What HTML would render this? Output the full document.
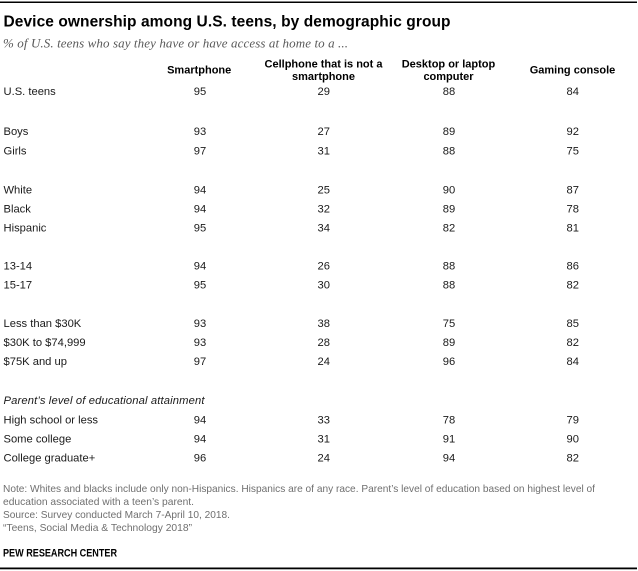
<!DOCTYPE html>
<html>
<head>
<meta charset="utf-8">
<style>
  html, body { margin:0; padding:0; background:#fff; }
  svg { display:block; }
  .t { font-family:"Liberation Sans", Arial, sans-serif; }
  .lab { font-family:"Liberation Sans", Arial, sans-serif; font-size:11.2px; fill:#1a1a1a; }
  .val { font-family:"Liberation Sans", Arial, sans-serif; font-size:11.2px; fill:#1a1a1a; text-anchor:middle; }
  .hd { font-family:"Liberation Sans", Arial, sans-serif; font-size:11px; font-weight:bold; fill:#000; text-anchor:middle; }
  .ft { font-family:"Liberation Sans", Arial, sans-serif; font-size:10.3px; fill:#6f6f6f; }
</style>
</head>
<body>
<svg width="638" height="571" viewBox="0 0 638 571" xmlns="http://www.w3.org/2000/svg">
  <rect x="0" y="0" width="638" height="571" fill="#fff"/>
  <rect x="0" y="1.5" width="637" height="1.5" fill="#000"/>

  <text class="t" x="3.5" y="26.7" font-size="15.5" font-weight="bold" fill="#000" textLength="447" lengthAdjust="spacing">Device ownership among U.S. teens, by demographic group</text>
  <text x="3" y="47.5" font-family="'Liberation Serif', 'Times New Roman', serif" font-style="italic" font-size="13" fill="#595959" textLength="345" lengthAdjust="spacing">% of U.S. teens who say they have or have access at home to a ...</text>

  <!-- headers -->
  <text class="hd" x="199.2" y="73.7">Smartphone</text>
  <text class="hd" x="323.5" y="67.5">Cellphone that is not a</text>
  <text class="hd" x="323.5" y="80">smartphone</text>
  <text class="hd" x="448.5" y="67.5">Desktop or laptop</text>
  <text class="hd" x="448.5" y="80">computer</text>
  <text class="hd" x="572.5" y="73.7">Gaming console</text>

  <!-- rows -->
  <g>
    <text class="lab" x="3.5" y="95">U.S. teens</text>
    <text class="val" x="200" y="95">95</text><text class="val" x="323.7" y="95">29</text><text class="val" x="449" y="95">88</text><text class="val" x="572.7" y="95">84</text>

    <text class="lab" x="3.5" y="135">Boys</text>
    <text class="val" x="200" y="135">93</text><text class="val" x="323.7" y="135">27</text><text class="val" x="449" y="135">89</text><text class="val" x="572.7" y="135">92</text>

    <text class="lab" x="3.5" y="154.3">Girls</text>
    <text class="val" x="200" y="154.3">97</text><text class="val" x="323.7" y="154.3">31</text><text class="val" x="449" y="154.3">88</text><text class="val" x="572.7" y="154.3">75</text>

    <text class="lab" x="3.5" y="193.3">White</text>
    <text class="val" x="200" y="193.3">94</text><text class="val" x="323.7" y="193.3">25</text><text class="val" x="449" y="193.3">90</text><text class="val" x="572.7" y="193.3">87</text>

    <text class="lab" x="3.5" y="212.3">Black</text>
    <text class="val" x="200" y="212.3">94</text><text class="val" x="323.7" y="212.3">32</text><text class="val" x="449" y="212.3">89</text><text class="val" x="572.7" y="212.3">78</text>

    <text class="lab" x="3.5" y="231.3">Hispanic</text>
    <text class="val" x="200" y="231.3">95</text><text class="val" x="323.7" y="231.3">34</text><text class="val" x="449" y="231.3">82</text><text class="val" x="572.7" y="231.3">81</text>

    <text class="lab" x="3.5" y="269.5">13-14</text>
    <text class="val" x="200" y="269.5">94</text><text class="val" x="323.7" y="269.5">26</text><text class="val" x="449" y="269.5">88</text><text class="val" x="572.7" y="269.5">86</text>

    <text class="lab" x="3.5" y="288.7">15-17</text>
    <text class="val" x="200" y="288.7">95</text><text class="val" x="323.7" y="288.7">30</text><text class="val" x="449" y="288.7">88</text><text class="val" x="572.7" y="288.7">82</text>

    <text class="lab" x="3.5" y="326.8">Less than $30K</text>
    <text class="val" x="200" y="326.8">93</text><text class="val" x="323.7" y="326.8">38</text><text class="val" x="449" y="326.8">75</text><text class="val" x="572.7" y="326.8">85</text>

    <text class="lab" x="3.5" y="345.8">$30K to $74,999</text>
    <text class="val" x="200" y="345.8">93</text><text class="val" x="323.7" y="345.8">28</text><text class="val" x="449" y="345.8">89</text><text class="val" x="572.7" y="345.8">82</text>

    <text class="lab" x="3.5" y="364.8">$75K and up</text>
    <text class="val" x="200" y="364.8">97</text><text class="val" x="323.7" y="364.8">24</text><text class="val" x="449" y="364.8">96</text><text class="val" x="572.7" y="364.8">84</text>

    <text class="lab" x="3.5" y="404" font-style="italic" textLength="201" lengthAdjust="spacing">Parent’s level of educational attainment</text>

    <text class="lab" x="3.5" y="423.3">High school or less</text>
    <text class="val" x="200" y="423.3">94</text><text class="val" x="323.7" y="423.3">33</text><text class="val" x="449" y="423.3">78</text><text class="val" x="572.7" y="423.3">79</text>

    <text class="lab" x="3.5" y="442.3">Some college</text>
    <text class="val" x="200" y="442.3">94</text><text class="val" x="323.7" y="442.3">31</text><text class="val" x="449" y="442.3">91</text><text class="val" x="572.7" y="442.3">90</text>

    <text class="lab" x="3.5" y="461.3">College graduate+</text>
    <text class="val" x="200" y="461.3">96</text><text class="val" x="323.7" y="461.3">24</text><text class="val" x="449" y="461.3">94</text><text class="val" x="572.7" y="461.3">82</text>
  </g>

  <!-- footer -->
  <text class="ft" x="3" y="492" textLength="592" lengthAdjust="spacingAndGlyphs">Note: Whites and blacks include only non-Hispanics. Hispanics are of any race. Parent’s level of education based on highest level of</text>
  <text class="ft" x="3" y="505" textLength="191" lengthAdjust="spacingAndGlyphs">education associated with a teen’s parent.</text>
  <text class="ft" x="3" y="518" textLength="227" lengthAdjust="spacingAndGlyphs">Source: Survey conducted March 7-April 10, 2018.</text>
  <text class="ft" x="3" y="531" textLength="189" lengthAdjust="spacingAndGlyphs">“Teens, Social Media &amp; Technology 2018”</text>

  <text class="t" x="3" y="556.5" font-size="10.7" font-weight="bold" fill="#000" textLength="114" lengthAdjust="spacingAndGlyphs">PEW RESEARCH CENTER</text>

  <rect x="0" y="567.5" width="637" height="1.8" fill="#000"/>
</svg>
</body>
</html>
